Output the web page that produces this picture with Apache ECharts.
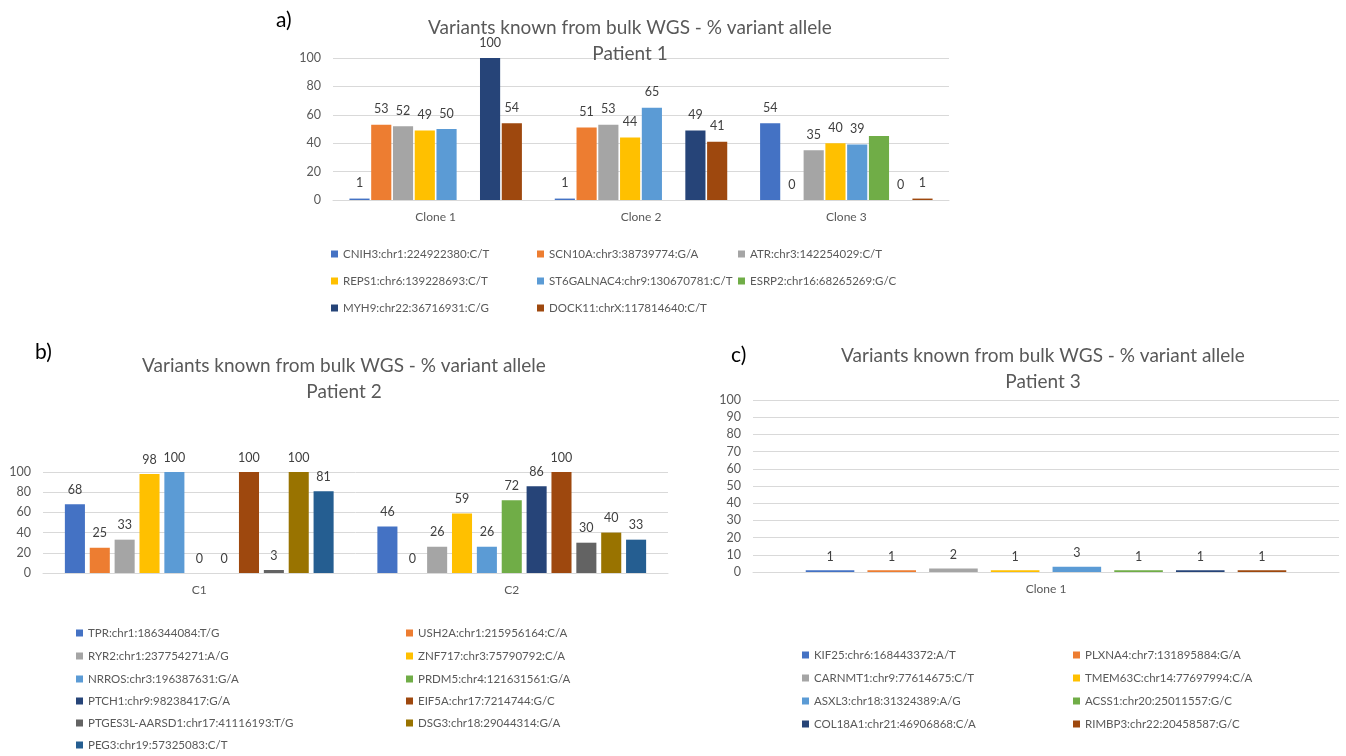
<!DOCTYPE html>
<html>
<head>
<meta charset="utf-8">
<script src="https://cdn.jsdelivr.net/npm/echarts@6/dist/echarts.min.js"></script>
<style>
  html, body { margin: 0; background: #fff; }
  #chart { width: 1346px; height: 756px; }
</style>
</head>
<body>
<div id="chart"></div>
<script>
// a) patient 1
const clonesA = ['Clone 1', 'Clone 2', 'Clone 3']
const variantsA = [
  'CNIH3:chr1:224922380:C/T', 'SCN10A:chr3:38739774:G/A', 'ATR:chr3:142254029:C/T',
  'REPS1:chr6:139228693:C/T', 'ST6GALNAC4:chr9:130670781:C/T', 'ESRP2:chr16:68265269:G/C',
  'MYH9:chr22:36716931:C/G', 'DOCK11:chrX:117814640:C/T'
]
// one row per variant, one value per clone (null = no bar)
const valuesA = [
  [1, 1, 54], [53, 51, 0], [52, 53, 35], [49, 44, 40],
  [50, 65, 39], [null, null, 45], [100, 49, 0], [54, 41, 1]
]

// b) patient 2
const clonesB = ['C1', 'C2']
const variantsB = [
  'TPR:chr1:186344084:T/G', 'USH2A:chr1:215956164:C/A', 'RYR2:chr1:237754271:A/G',
  'ZNF717:chr3:75790792:C/A', 'NRROS:chr3:196387631:G/A', 'PRDM5:chr4:121631561:G/A',
  'PTCH1:chr9:98238417:G/A', 'EIF5A:chr17:7214744:G/C', 'PTGES3L-AARSD1:chr17:41116193:T/G',
  'DSG3:chr18:29044314:G/A', 'PEG3:chr19:57325083:C/T'
]
const valuesB = [
  [68, 46], [25, 0], [33, 26], [98, 59], [100, 26], [0, 72],
  [0, 86], [100, 100], [3, 30], [100, 40], [81, 33]
]

// c) patient 3
const clonesC = ['Clone 1']
const variantsC = [
  'KIF25:chr6:168443372:A/T', 'PLXNA4:chr7:131895884:G/A', 'CARNMT1:chr9:77614675:C/T',
  'TMEM63C:chr14:77697994:C/A', 'ASXL3:chr18:31324389:A/G', 'ACSS1:chr20:25011557:G/C',
  'COL18A1:chr21:46906868:C/A', 'RIMBP3:chr22:20458587:G/C'
]
const valuesC = [[1], [1], [2], [1], [3], [1], [1], [1]]

const palette = ['#4472C4', '#ED7D31', '#A5A5A5', '#FFC000', '#5B9BD5', '#70AD47',
  '#264478', '#9E480E', '#636363', '#997300', '#255E91']

const FONT = 'Lato, "Noto Sans", sans-serif'
const GREY = '#595959'
const LINE = '#D9D9D9'

function makeSeries(names, values, idx, opts) {
  return names.map((name, i) => ({
    type: 'bar',
    name: name,
    xAxisIndex: idx,
    yAxisIndex: idx,
    data: values[i],
    barGap: opts.gap,
    barCategoryGap: opts.catGap,
    itemStyle: { color: palette[i] },
    label: {
      show: !(opts.noLabel || []).includes(i),
      position: 'top',
      distance: opts.dist,
      color: '#404040',
      fontSize: 12.5,
      fontFamily: FONT
    }
  }))
}

// legend laid out as a grid: one legend component per entry
function makeLegend(names, colX, rowY) {
  return names.map((name, i) => ({
    data: [name],
    left: colX[i % colX.length],
    top: rowY[Math.floor(i / colX.length)] - 7,
    padding: 0,
    icon: 'rect',
    itemWidth: 7,
    itemHeight: 7,
    selectedMode: false,
    textStyle: { color: GREY, fontSize: 11.5, fontFamily: FONT }
  }))
}

function xAxis(data, idx) {
  return {
    type: 'category',
    gridIndex: idx,
    data: data,
    axisTick: { show: false },
    axisLine: { lineStyle: { color: LINE } },
    axisLabel: { color: GREY, fontSize: 12, fontFamily: FONT, margin: 11 }
  }
}

function yAxis(idx, interval) {
  return {
    type: 'value',
    gridIndex: idx,
    min: 0,
    max: 100,
    interval: interval,
    axisLine: { show: false },
    axisTick: { show: false },
    axisLabel: { color: GREY, fontSize: 12.5, fontFamily: FONT, margin: 12 },
    splitLine: { lineStyle: { color: LINE } }
  }
}

function title(text, x, y) {
  return {
    text: text,
    left: x,
    top: y,
    padding: 0,
    textAlign: 'center',
    textStyle: { color: GREY, fontSize: 19, fontWeight: 'normal', fontFamily: FONT, lineHeight: 26 }
  }
}

function tag(text, x, y) {
  return {
    text: text,
    left: x,
    top: y,
    padding: 0,
    textStyle: { color: '#000', fontSize: 21, fontWeight: 'normal', fontFamily: FONT }
  }
}

const headline = 'Variants known from bulk WGS - % variant allele'

const myChart = echarts.init(document.getElementById('chart'))
myChart.setOption({
  animation: false,
  textStyle: { fontFamily: FONT },
  title: [
    title(headline + '\nPatient 1', 630, 15),
    title(headline + '\nPatient 2', 344, 353),
    title(headline + '\nPatient 3', 1043, 343),
    tag('a)', 276, 10),
    tag('b)', 35, 342),
    tag('c)', 731, 345)
  ],
  legend: [
    ...makeLegend(variantsA, [331, 537, 738], [255, 282, 309]),
    ...makeLegend(variantsB, [76, 406], [634, 657, 680, 702, 724, 746]),
    ...makeLegend(variantsC, [802, 1073], [656, 679, 702, 725])
  ],
  grid: [
    { left: 333, right: 397, top: 58, bottom: 556 },
    { left: 43, right: 678, top: 472, bottom: 183 },
    { left: 753, right: 7, top: 400, bottom: 184 }
  ],
  xAxis: [xAxis(clonesA, 0), xAxis(clonesB, 1), xAxis(clonesC, 2)],
  yAxis: [yAxis(0, 20), yAxis(1, 20), yAxis(2, 10)],
  series: [
    ...makeSeries(variantsA, valuesA, 0, { gap: '8%', catGap: '16%', dist: 9, noLabel: [5] }),
    ...makeSeries(variantsB, valuesB, 1, { gap: '24%', catGap: '14%', dist: 8 }),
    ...makeSeries(variantsC, valuesC, 2, { gap: '27%', catGap: '18%', dist: 7 })
  ]
})
</script>
</body>
</html>
